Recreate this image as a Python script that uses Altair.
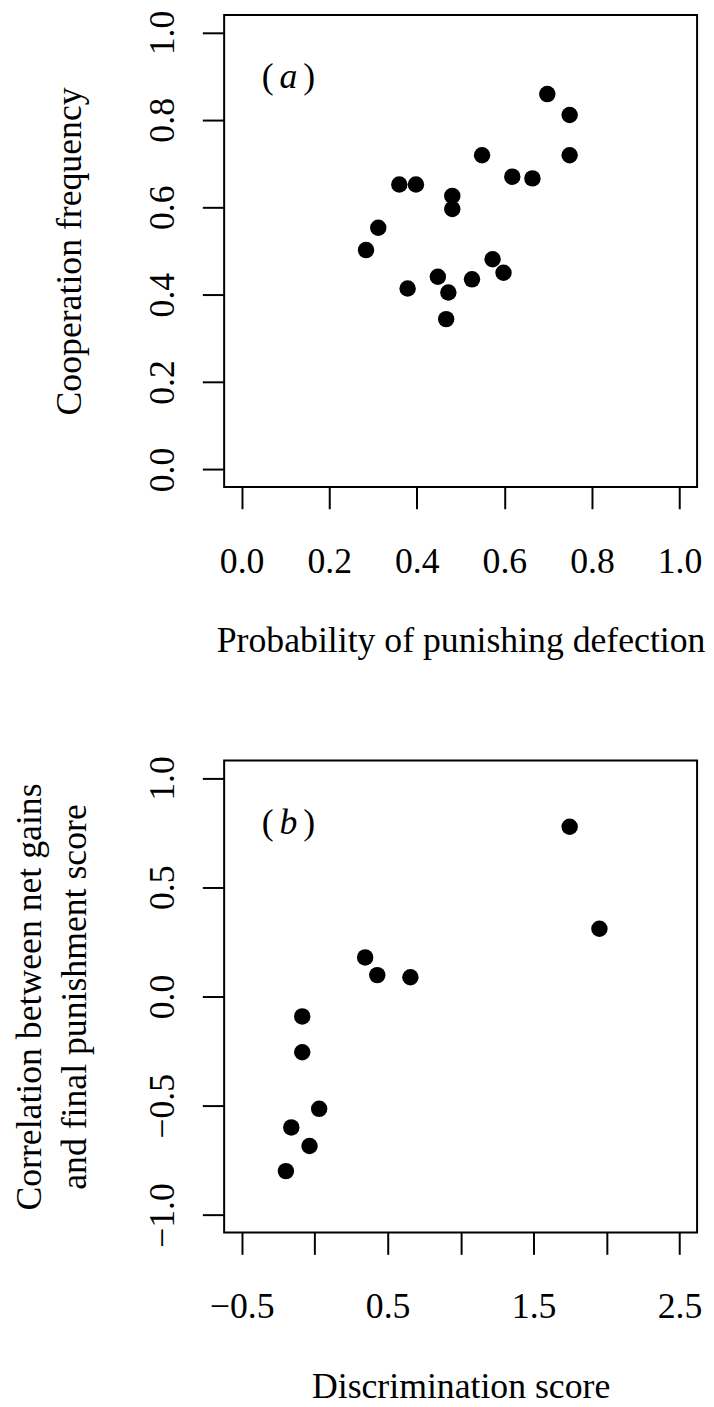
import altair as alt
import pandas as pd

# ---------------- data ----------------
# Panel (a)
a_punish = [0.698, 0.749, 0.749, 0.549, 0.618, 0.664, 0.360, 0.398, 0.481, 0.481,
            0.312, 0.284, 0.573, 0.598, 0.448, 0.526, 0.379, 0.472, 0.467]
a_coop = [0.859, 0.811, 0.719, 0.719, 0.670, 0.666, 0.652, 0.652, 0.626, 0.596,
          0.553, 0.502, 0.481, 0.450, 0.441, 0.435, 0.414, 0.405, 0.344]

# Panel (b)
b_disc = [1.747, 1.951, 0.346, 0.429, 0.656, -0.085, -0.085, 0.031, -0.160, -0.035, -0.197]
b_corr = [0.777, 0.310, 0.179, 0.098, 0.088, -0.091, -0.255, -0.514, -0.599, -0.684, -0.799]

a_x_ticks = [0.0, 0.2, 0.4, 0.6, 0.8, 1.0]
a_y_ticks = [0.0, 0.2, 0.4, 0.6, 0.8, 1.0]
b_x_ticks = [-0.5, 0.0, 0.5, 1.0, 1.5, 2.0, 2.5]
b_x_labeled = [-0.5, 0.5, 1.5, 2.5]
b_y_ticks = [-1.0, -0.5, 0.0, 0.5, 1.0]

a_x_domain = [-0.04, 1.04]
a_y_domain = [-0.04, 1.04]
b_x_domain = [-0.62, 2.62]
b_y_domain = [-1.08, 1.08]

a_letter, a_letter_pos = "a", (0.1, 0.9)
b_letter, b_letter_pos = "b", (-0.2, 0.8)

a_xtitle = "Probability of punishing defection"
a_ytitle = "Cooperation frequency"
b_xtitle = "Discrimination score"
b_ytitle = ["Correlation between net gains", "and final punishment score"]

# ---------------- style ----------------
FONT = "Liberation Serif"
FS = 36
W, H = 477, 476
TICK = 22


def x_axis(values, title, label_expr=None):
    kw = dict(values=values, format=".1f", title=title, domain=False, grid=False,
              tickSize=TICK, tickWidth=2, tickColor="black",
              labelFont=FONT, labelFontSize=FS, labelColor="black",
              labelPadding=64, labelBaseline="alphabetic", labelAlign="center",
              labelFlush=False, labelOverlap=False, labelBound=False,
              titleFont=FONT, titleFontSize=FS, titleFontWeight="normal",
              titleColor="black", titleX=W / 2, titleY=166,
              titleBaseline="alphabetic", titleAlign="center")
    if label_expr:
        kw["labelExpr"] = label_expr
    return alt.Axis(**kw)


def y_axis(values, title, title_x):
    return alt.Axis(values=values, format=".1f", title=title, domain=False, grid=False,
                    tickSize=TICK, tickWidth=2, tickColor="black",
                    labelFont=FONT, labelFontSize=FS, labelColor="black",
                    labelAngle=270, labelAlign="center", labelBaseline="alphabetic",
                    labelPadding=29, labelFlush=False, labelOverlap=False, labelBound=False,
                    titleFont=FONT, titleFontSize=FS, titleFontWeight="normal",
                    titleColor="black", titleAngle=270, titleX=title_x, titleY=H / 2,
                    titleBaseline="alphabetic", titleAlign="center", titleLineHeight=45)


def panel(xs, ys, xdom, ydom, xaxis, yaxis, letter, pos):
    df = pd.DataFrame({"x": xs, "y": ys})
    x_enc = alt.X("x:Q", scale=alt.Scale(domain=xdom, nice=False, zero=False), axis=xaxis)
    y_enc = alt.Y("y:Q", scale=alt.Scale(domain=ydom, nice=False, zero=False), axis=yaxis)
    pts = alt.Chart(df).mark_circle(size=275, color="black", opacity=1).encode(x=x_enc, y=y_enc)

    ldf = pd.DataFrame({"x": [pos[0]], "y": [pos[1]]})
    base = alt.Chart(ldf).encode(x=alt.X("x:Q"), y=alt.Y("y:Q"))
    common = dict(font=FONT, fontSize=FS, color="black", baseline="alphabetic", align="center", dy=12)
    lp = base.mark_text(text="(", dx=-18, **common)
    lt = base.mark_text(text=letter, dx=3, fontStyle="italic", **common)
    rp = base.mark_text(text=")", dx=24, **common)
    return alt.layer(pts, lp, lt, rp).properties(width=W, height=H)


chart_a = panel(a_punish, a_coop, a_x_domain, a_y_domain,
                x_axis(a_x_ticks, a_xtitle), y_axis(a_y_ticks, a_ytitle, -145),
                a_letter, a_letter_pos)

lbl_expr = "indexof(" + str(b_x_labeled) + ", datum.value) >= 0 ? datum.label : ''"
chart_b = panel(b_disc, b_corr, b_x_domain, b_y_domain,
                x_axis(b_x_ticks, b_xtitle, lbl_expr), y_axis(b_y_ticks, b_ytitle, -185),
                b_letter, b_letter_pos)

chart = alt.vconcat(chart_a, chart_b, spacing=96).properties(
    padding={"left": 3, "top": -5, "right": 0, "bottom": 0},
    background="white",
).configure_view(stroke="black", strokeWidth=2)

chart.save("out.html", embed_options={"renderer": "svg", "actions": False})
